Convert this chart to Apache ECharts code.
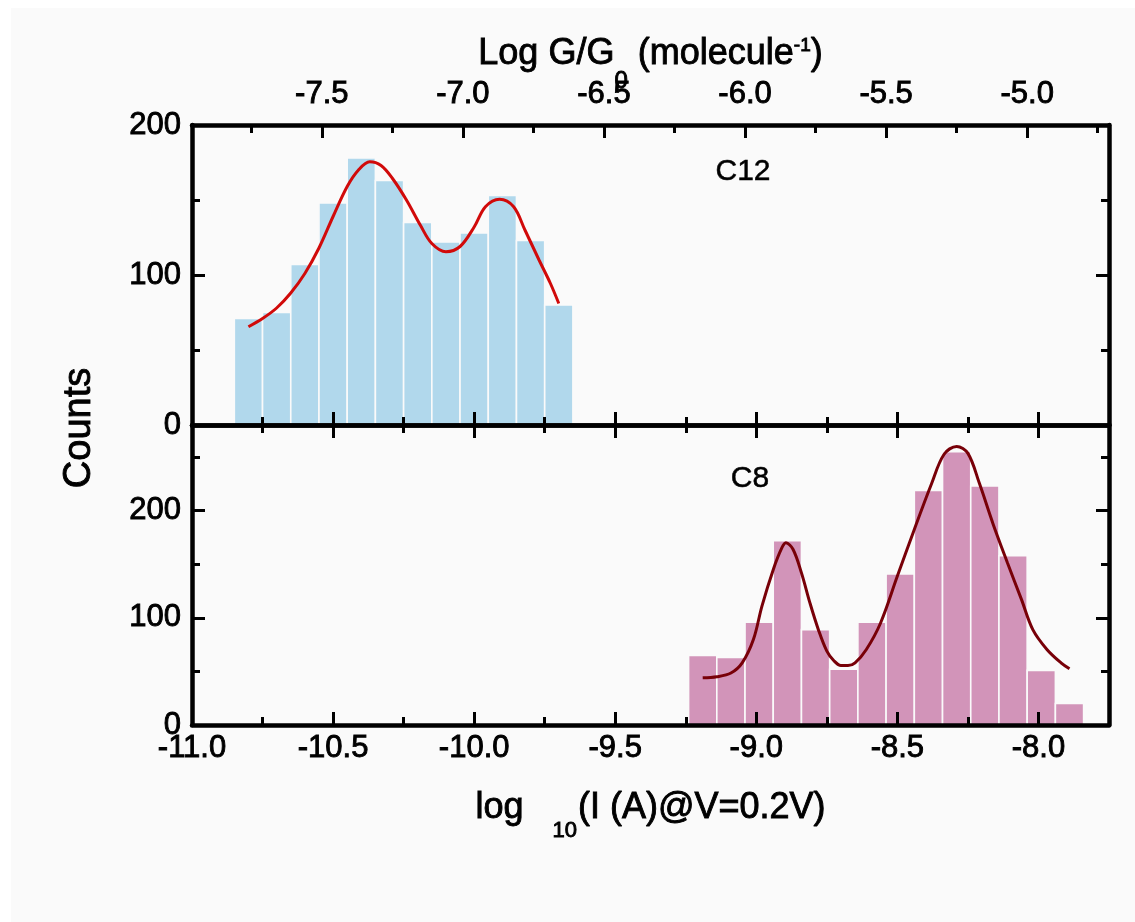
<!DOCTYPE html>
<html>
<head>
<meta charset="utf-8">
<script src="https://cdn.jsdelivr.net/npm/echarts@6/dist/echarts.min.js"></script>
<style>
html, body { margin: 0; padding: 0; background: #ffffff; }
#chart { width: 1135px; height: 922px; }
</style>
</head>
<body>
<div id="chart"></div>
<script>
// ---------------- data ----------------
const binWidth = 0.1;
const c12BinCenters = [-10.8, -10.7, -10.6, -10.5, -10.4, -10.3, -10.2, -10.1, -10.0, -9.9, -9.8, -9.7];
const c12Counts     = [71, 75, 107, 148, 178, 163, 135, 122, 128, 153, 123, 80];

const c8BinCenters = [-9.19, -9.09, -8.99, -8.89, -8.79, -8.69, -8.59, -8.49, -8.39, -8.29, -8.19, -8.09, -7.99, -7.89];
const c8Counts     = [65, 63, 96, 172, 89, 52, 96, 141, 219, 255, 223, 158, 51, 20];

const c12FitX = [-10.80, -10.75, -10.70, -10.65, -10.60, -10.55, -10.50, -10.45, -10.41, -10.37, -10.33, -10.29, -10.24, -10.19, -10.15, -10.10, -10.05, -10.00, -9.96, -9.91, -9.86, -9.82, -9.77, -9.73, -9.70];
const c12FitY = [65.5, 71, 78, 88, 101, 118, 139, 159, 170, 175.5, 173, 164.5, 150, 133, 121, 115.5, 119, 132, 145.5, 150.5, 145.5, 130, 110, 94.5, 81];

const c8FitX = [-9.19, -9.14, -9.09, -9.05, -9.01, -8.98, -8.94, -8.91, -8.895, -8.87, -8.84, -8.81, -8.78, -8.75, -8.725, -8.70, -8.675, -8.65, -8.61, -8.56, -8.50, -8.44, -8.38, -8.335, -8.29, -8.25, -8.21, -8.16, -8.11, -8.06, -8.02, -7.97, -7.92, -7.89];
const c8FitY = [44, 45, 48.5, 58, 80, 111, 145, 165, 170, 164, 142, 114, 89, 69, 60, 55.5, 55.5, 58, 70.5, 95, 139, 182.5, 224.5, 252.5, 260, 253.5, 226, 187, 151.5, 117, 89, 70.5, 58, 52.5];

const currentRange = [-11.0, -7.75];
const conductanceOffset = 3.04;           // Log G/G0 axis = log10 I + offset
const currentTicks = [-11.0, -10.5, -10.0, -9.5, -9.0, -8.5, -8.0];
const currentMinorTicks = [-10.75, -10.25, -9.75, -9.25, -8.75, -8.25];
const conductanceTicks = [-7.5, -7.0, -6.5, -6.0, -5.5, -5.0];
const conductanceMinorTicks = [-7.75, -7.25, -6.75, -6.25, -5.75, -5.25, -4.75];

const c12CountMax = 200;
const c12CountTicks = [0, 100, 200];
const c12CountMinorTicks = [50, 150];
const c12RightTicks = [100];

const c8CountMax = 280;
const c8CountTicks = [0, 100, 200];
const c8CountMinorTicks = [50, 150, 250];
const c8RightTicks = [100, 200];

const panelLabels = ['C12', 'C8'];
const topAxisTitle = ['Log G/G', '0', ' (molecule', '-1', ')'];
const bottomAxisTitle = ['log ', '10', '(I (A)@V=0.2V)'];
const yTitle = 'Counts';

// ---------------- styling helpers ----------------
const FONT = '"Liberation Sans", Arial, Helvetica, sans-serif';
const FRAME_W = 4.5;
const MAJOR_LEN = 13;
const MINOR_LEN = 8;
const INK = { textBorderColor: '#000', textBorderWidth: 0.9 };
const conductanceRange = [currentRange[0] + conductanceOffset, currentRange[1] + conductanceOffset];

function hAxis(gridIndex, position, range, ticks, len, showLine, labelValues, extra, labelMargin) {
  return Object.assign({
    type: 'value', gridIndex: gridIndex, position: position,
    min: range[0], max: range[1],
    axisLine: { show: showLine, onZero: false, lineStyle: { color: '#000', width: FRAME_W } },
    axisTick: { show: true, inside: true, length: len, customValues: ticks, lineStyle: { color: '#000', width: 3 } },
    axisLabel: labelValues ? Object.assign({
      show: true, customValues: labelValues, formatter: function (v) { return v.toFixed(1); },
      fontSize: 31, color: '#000', fontFamily: FONT, margin: labelMargin || 8
    }, INK) : { show: false },
    splitLine: { show: false },
    z: 10
  }, extra || {});
}

function vAxis(gridIndex, position, max, ticks, len, showLine, labelValues) {
  return {
    type: 'value', gridIndex: gridIndex, position: position,
    min: 0, max: max,
    axisLine: { show: showLine, onZero: false, lineStyle: { color: '#000', width: FRAME_W } },
    axisTick: { show: true, inside: true, length: len, customValues: ticks, lineStyle: { color: '#000', width: 3 } },
    axisLabel: labelValues ? Object.assign({
      show: true, customValues: labelValues, formatter: function (v) { return String(v); },
      fontSize: 31, color: '#000', fontFamily: FONT, margin: 11
    }, INK) : { show: false },
    splitLine: { show: false },
    z: 10
  };
}

function binRenderer(color) {
  return function (params, api) {
    const x = api.value(0), y = api.value(1);
    const a = api.coord([x - binWidth / 2, y]);
    const b = api.coord([x + binWidth / 2, 0]);
    return {
      type: 'rect',
      shape: { x: a[0], y: a[1], width: b[0] - a[0], height: b[1] - a[1] },
      style: { fill: color, stroke: '#fafafa', lineWidth: 1.6 }
    };
  };
}

function zip(xs, ys) { return xs.map(function (x, i) { return [x, ys[i]]; }); }

function richStyle(size, padding) {
  const s = Object.assign({ fontSize: size, fontFamily: FONT, color: '#000' }, INK);
  if (padding) s.padding = padding;
  return s;
}

const option = {
  backgroundColor: '#fafafa',
  animation: false,
  grid: [
    { left: 192, right: 26, top: 125, height: 300 },
    { left: 192, right: 26, top: 425, height: 300 }
  ],
  xAxis: [
    // top panel, bottom edge (log I)
    hAxis(0, 'bottom', currentRange, currentTicks, MAJOR_LEN, true, null),
    hAxis(0, 'bottom', currentRange, currentMinorTicks, MINOR_LEN, false, null),
    // top panel, top edge (Log G/G0)
    hAxis(0, 'top', conductanceRange, conductanceTicks, MAJOR_LEN, true, conductanceTicks, {
      name: '{t|' + topAxisTitle[0] + '}{sub|' + topAxisTitle[1] + '}{t|' + topAxisTitle[2] + '}{sup|' + topAxisTitle[3] + '}{t|' + topAxisTitle[4] + '}',
      nameLocation: 'middle', nameGap: 32, nameMoveOverlap: false,
      nameTextStyle: {
        rich: {
          t: richStyle(36),
          sub: richStyle(24, [54, 0, 0, 0]),
          sup: richStyle(19, [0, 0, 16, 0])
        }
      }
    }, 15),
    hAxis(0, 'top', conductanceRange, conductanceMinorTicks, MINOR_LEN, false, null),
    // bottom panel, bottom edge (log I) with labels
    hAxis(1, 'bottom', currentRange, currentTicks, MAJOR_LEN, true, currentTicks, {
      name: '{t|' + bottomAxisTitle[0] + '}{sub|' + bottomAxisTitle[1] + '}{t|' + bottomAxisTitle[2] + '}',
      nameLocation: 'middle', nameGap: 49,
      nameTextStyle: {
        rich: {
          t: richStyle(36),
          sub: richStyle(22, [46, 1, 0, 19])
        }
      }
    }, 8),
    hAxis(1, 'bottom', currentRange, currentMinorTicks, MINOR_LEN, false, null),
    // bottom panel, top edge
    hAxis(1, 'top', currentRange, currentTicks, MAJOR_LEN, true, null),
    hAxis(1, 'top', currentRange, currentMinorTicks, MINOR_LEN, false, null)
  ],
  yAxis: [
    vAxis(0, 'left', c12CountMax, c12CountTicks, MAJOR_LEN, true, c12CountTicks),
    vAxis(0, 'left', c12CountMax, c12CountMinorTicks, MINOR_LEN, false, null),
    vAxis(1, 'left', c8CountMax, c8CountTicks, MAJOR_LEN, true, c8CountTicks),
    vAxis(1, 'left', c8CountMax, c8CountMinorTicks, MINOR_LEN, false, null),
    vAxis(0, 'right', c12CountMax, c12RightTicks, MAJOR_LEN, true, null),
    vAxis(0, 'right', c12CountMax, c12CountMinorTicks, MINOR_LEN, false, null),
    vAxis(1, 'right', c8CountMax, c8RightTicks, MAJOR_LEN, true, null),
    vAxis(1, 'right', c8CountMax, c8CountMinorTicks, MINOR_LEN, false, null)
  ],
  series: [
    {
      name: 'C12 histogram', type: 'custom', xAxisIndex: 0, yAxisIndex: 0,
      renderItem: binRenderer('#b1d8ec'), encode: { x: 0, y: 1 },
      data: zip(c12BinCenters, c12Counts), z: 2
    },
    {
      name: 'C12 fit', type: 'line', xAxisIndex: 0, yAxisIndex: 0,
      data: zip(c12FitX, c12FitY), smooth: 0.35, showSymbol: false,
      lineStyle: { color: '#d10a0a', width: 3 }, z: 3
    },
    {
      name: 'C8 histogram', type: 'custom', xAxisIndex: 4, yAxisIndex: 2,
      renderItem: binRenderer('#d294b9'), encode: { x: 0, y: 1 },
      data: zip(c8BinCenters, c8Counts), z: 2
    },
    {
      name: 'C8 fit', type: 'line', xAxisIndex: 4, yAxisIndex: 2,
      data: zip(c8FitX, c8FitY), smooth: 0.35, showSymbol: false,
      lineStyle: { color: '#780008', width: 3 }, z: 3
    }
  ],
  graphic: [
    { type: 'rect', shape: { x: 0, y: 0, width: 1135, height: 8 }, style: { fill: '#ffffff' }, silent: true },
    { type: 'rect', shape: { x: 0, y: 0, width: 11, height: 922 }, style: { fill: '#ffffff' }, silent: true },
    { type: 'text', x: 80, y: 428, rotation: Math.PI / 2,
      style: { text: yTitle, fontSize: 38, fontFamily: FONT, fill: '#000', stroke: '#000', lineWidth: 0.9, align: 'center', verticalAlign: 'middle' } },
    { type: 'text', x: 743, y: 172,
      style: { text: panelLabels[0], fontSize: 30, fontFamily: FONT, fill: '#000', stroke: '#000', lineWidth: 0.5, align: 'center', verticalAlign: 'middle' } },
    { type: 'text', x: 750, y: 479,
      style: { text: panelLabels[1], fontSize: 30, fontFamily: FONT, fill: '#000', stroke: '#000', lineWidth: 0.5, align: 'center', verticalAlign: 'middle' } }
  ]
};

const chart = echarts.init(document.getElementById('chart'), null, { renderer: 'canvas' });
chart.setOption(option);
</script>
</body>
</html>
